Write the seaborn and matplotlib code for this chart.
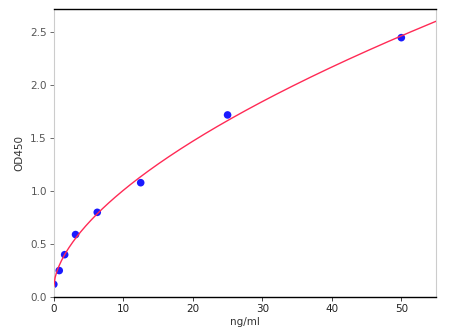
import numpy as np
import pandas as pd
import matplotlib
matplotlib.use("Agg")
import matplotlib.pyplot as plt
import seaborn as sns

conc = [0, 0.78, 1.56, 3.125, 6.25, 12.5, 25, 50]
od450 = [0.12, 0.25, 0.40, 0.59, 0.80, 1.08, 1.72, 2.45]
xticks = [0, 10, 20, 30, 40, 50]
yticks = [0.0, 0.5, 1.0, 1.5, 2.0, 2.5]

sns.set_theme(style="white")
plt.rcParams['font.family'] = ['DejaVu Sans']

df = pd.DataFrame({"conc": conc, "od": od450})

# fit power curve y = c + a*x^b (grid over b, least squares for a,c)
x = np.array(conc, float); y = np.array(od450, float)
best = None
for b in np.linspace(0.2, 1.2, 1001):
    A = np.vstack([x ** b, np.ones_like(x)]).T
    coef, res, *_ = np.linalg.lstsq(A, y, rcond=None)
    r = np.sum((A @ coef - y) ** 2)
    if best is None or r < best[0]:
        best = (r, b, coef)
_, bb, (aa, cc) = best
xs = np.linspace(0, 55, 300)
curve = pd.DataFrame({"conc": xs, "od": cc + aa * xs ** bb})

fig = plt.figure(figsize=(4.6, 3.36), dpi=100)
ax = fig.add_axes([0.117, 0.116, 0.831, 0.857])
sns.scatterplot(data=df, x="conc", y="od", ax=ax, color="#1a1aff", s=30,
                edgecolor="none", zorder=2)
sns.lineplot(data=curve, x="conc", y="od", ax=ax, color="#ff2a55", lw=1.0,
             zorder=3)
ax.set_xlim(0, 55)
ax.set_ylim(0, 2.72)
ax.set_xticks(xticks)
ax.set_yticks(yticks)
ax.set_yticklabels([f"{v:.1f}" for v in yticks])
ax.set_xlabel("ng/ml", fontsize=7.5, color="#333333", labelpad=2)
ax.set_ylabel("OD450", fontsize=7.5, color="#333333", labelpad=4)
ax.tick_params(axis="both", labelsize=7.5, colors="#555555", length=3,
               width=0.6, direction="out", bottom=True, left=True, pad=2)
ax.tick_params(axis="x", colors="#222222")
for s in ["left", "right"]:
    ax.spines[s].set_color("#cccccc")
    ax.spines[s].set_linewidth(0.8)
for s in ["top", "bottom"]:
    ax.spines[s].set_color("black")
    ax.spines[s].set_linewidth(1.0)
fig.savefig("out.png", dpi=100)
